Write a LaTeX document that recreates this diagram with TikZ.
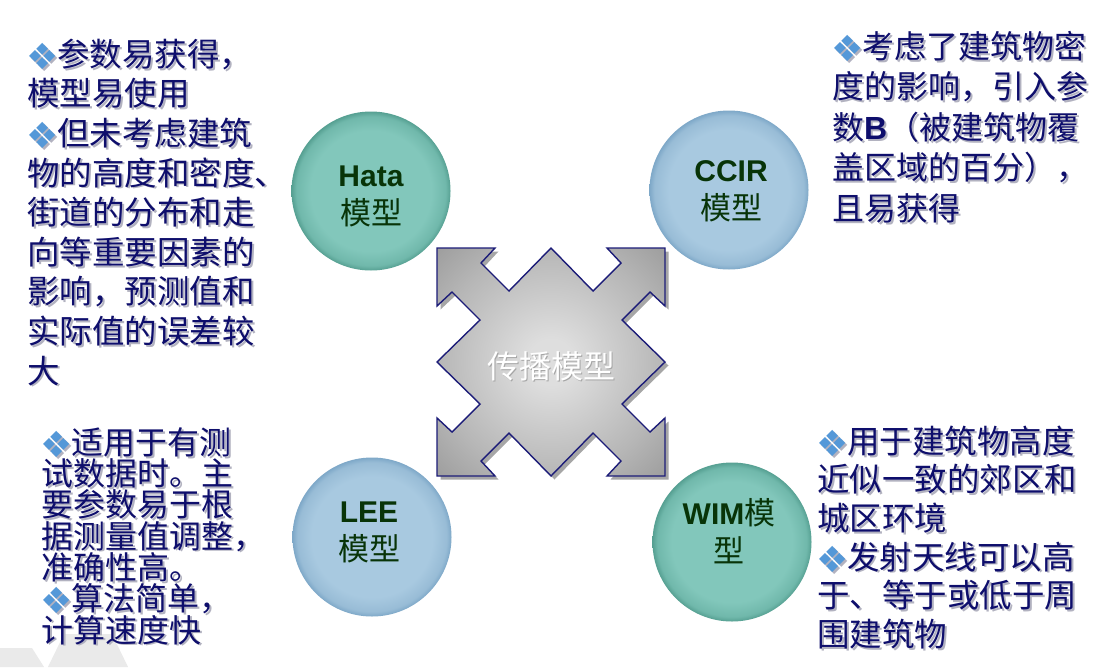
\documentclass[tikz,border=0pt]{standalone}
\usepackage{fontspec}
\newfontfamily\song{Noto Sans CJK SC}
\newfontfamily\arialf{Liberation Sans}
\newfontfamily\dejavu{DejaVu Sans}
\definecolor{navytext}{RGB}{14,14,108}
\definecolor{shadowgray}{RGB}{178,178,192}
\definecolor{bulletblue}{RGB}{84,152,216}
\definecolor{tealin}{RGB}{130,199,187}
\definecolor{tealmid}{RGB}{112,184,171}
\definecolor{tealout}{RGB}{86,160,146}
\definecolor{bluein}{RGB}{168,201,224}
\definecolor{bluemid}{RGB}{152,188,214}
\definecolor{blueout}{RGB}{126,168,200}
\definecolor{labelgreen}{RGB}{8,52,8}
\definecolor{arrowline}{RGB}{28,28,120}
\definecolor{grayc}{RGB}{222,222,222}
\definecolor{graym}{RGB}{182,182,182}
\definecolor{grayo}{RGB}{156,156,156}
\definecolor{decogray}{RGB}{234,234,234}
\colorlet{bulcol}{bulletblue}
\pgfdeclareradialshading{tealball}{\pgfpoint{0bp}{0bp}}{color(0bp)=(tealin); color(19bp)=(tealin); color(23.5bp)=(tealmid); color(25bp)=(tealout); color(50bp)=(tealout)}
\pgfdeclareradialshading{blueball}{\pgfpoint{0bp}{0bp}}{color(0bp)=(bluein); color(19bp)=(bluein); color(23.5bp)=(bluemid); color(25bp)=(blueout); color(50bp)=(blueout)}
\pgfdeclareradialshading{grayx}{\pgfpoint{0bp}{0bp}}{color(0bp)=(grayc); color(5bp)=(grayc); color(25bp)=(graym); color(36bp)=(grayo); color(50bp)=(grayo)}
\newcommand\shtext[1]{\rlap{\kern1.8pt\raisebox{-1.8pt}{\colorlet{bulcol}{shadowgray}\color{shadowgray}#1}}#1}
\newcommand\bul{\makebox[30pt][l]{\kern-1pt\dejavu\fontsize{36}{36}\selectfont\color{bulcol}\raisebox{-3.2pt}[0pt][0pt]{❖}}}
\newcommand\fs{\rule{0pt}{32pt}}
\newcommand\tightls{\lineskiplimit-20pt\relax\lineskip0pt\relax}
\tikzset{
  body/.style={anchor=north west, inner sep=0pt, align=left, text=navytext},
  ball/.style={circle, minimum size=159pt, inner sep=0pt, shade, shading=#1},
  cirlabel/.style={align=center, text=labelgreen, inner sep=0pt, font=\song\fontsize{31}{38}\selectfont},
  quadarrow/.style={insert path={(-114,-114) -- (-56,-114) -- (-70,-99) -- (-42,-71) -- (0,-114) -- (42,-71) -- (70,-99) -- (56,-114) -- (114,-114) -- (114,-56) -- (99,-70) -- (71,-42) -- (114,0) -- (71,42) -- (99,70) -- (114,56) -- (114,114) -- (56,114) -- (70,99) -- (42,71) -- (0,114) -- (-42,71) -- (-70,99) -- (-56,114) -- (-114,114) -- (-114,56) -- (-99,70) -- (-71,42) -- (-114,0) -- (-71,-42) -- (-99,-70) -- (-114,-56) -- cycle}},
}
\newcommand\lat[1]{{\arialf\bfseries\fontsize{30}{38}\selectfont #1}}
\begin{document}
\begin{tikzpicture}[x=1pt,y=-1pt]
\fill[white] (0,0) rectangle (1105,667);
\path[use as bounding box] (0,0) rectangle (1105,667);
% background decoration
\fill[decogray] (0,648) -- (32,648) -- (44,667) -- (0,667) -- cycle;
\fill[decogray] (48,667) -- (64,634) -- (112,634) -- (128,667) -- cycle;
% central four-way arrow
\begin{scope}[shift={(551,362)}]
\fill[black, opacity=0.35, shift={(3.5,3.5)}, quadarrow];
\shade[shading=grayx, draw=arrowline, line width=1.4pt, line join=miter, quadarrow];
\end{scope}
\node[inner sep=0pt, font=\song\fontsize{32}{32}\selectfont, text=white] (centre) at (551,367)
  {\rlap{\kern1.5pt\raisebox{-1.5pt}{\color{black!35}传播模型}}传播模型};
% circles
\node[ball=tealball] (hata) at (371,191) {};
\node[ball=blueball] (ccir) at (729,190) {};
\node[ball=blueball] (lee) at (372,537) {};
\node[ball=tealball] (wim) at (732,542) {};
\node[cirlabel] (hatat) at (371,196) {\lat{Hata}\\模型};
\node[cirlabel] (ccirt) at (731,191.5) {\lat{CCIR}\\模型};
\node[cirlabel] (leet) at (369,532) {\lat{LEE}\\模型};
\node[cirlabel] (wimt) at (729,531) {\lat{WIM}模\\型};
% text blocks
\node[body, font=\song\fontsize{32.5}{39.6}\selectfont\tightls] (tl) at (27,34) {%
\fs\shtext{\bul 参数易获得，}\\
\shtext{模型易使用}\\
\shtext{\bul 但未考虑建筑}\\
\shtext{物的高度和密度、}\\
\shtext{街道的分布和走}\\
\shtext{向等重要因素的}\\
\shtext{影响，预测值和}\\
\shtext{实际值的误差较}\\
\shtext{大}};
\node[body, font=\song\fontsize{32}{40.5}\selectfont\tightls] (tr) at (832,26) {%
\fs\shtext{\bul 考虑了建筑物密}\\
\shtext{度的影响，引入参}\\
\shtext{数{\arialf\bfseries B}（被建筑物覆}\\
\shtext{盖区域的百分），}\\
\shtext{且易获得}};
\node[body, font=\song\fontsize{32}{31.3}\selectfont\tightls] (bl) at (41,422) {%
\fs\shtext{\bul 适用于有测}\\
\shtext{试数据时。主}\\
\shtext{要参数易于根}\\
\shtext{据测量值调整，}\\
\shtext{准确性高。}\\
\shtext{\bul 算法简单，}\\
\shtext{计算速度快}};
\node[body, font=\song\fontsize{32.5}{38.6}\selectfont\tightls] (br) at (817,421) {%
\fs\shtext{\bul 用于建筑物高度}\\
\shtext{近似一致的郊区和}\\
\shtext{城区环境}\\
\shtext{\bul 发射天线可以高}\\
\shtext{于、等于或低于周}\\
\shtext{围建筑物}};
\end{tikzpicture}
\end{document}
